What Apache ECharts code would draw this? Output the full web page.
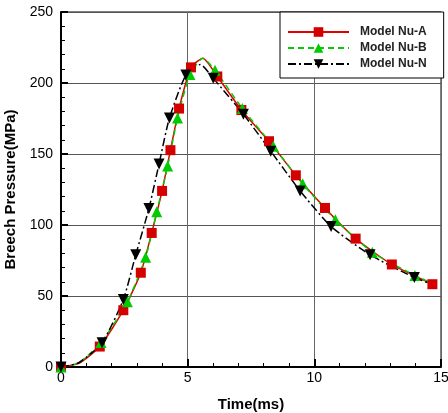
<!DOCTYPE html>
<html>
<head>
<meta charset="utf-8">
<script src="https://cdn.jsdelivr.net/npm/echarts@6/dist/echarts.min.js"></script>
<style>
  html, body { margin: 0; padding: 0; background: #fff; }
  #chart { width: 448px; height: 413px; }
</style>
</head>
<body>
<div id="chart"></div>
<script>
// marker points (time in ms, pressure in MPa)
const timeA = [0, 1.53, 2.46, 3.15, 3.58, 3.99, 4.32, 4.66, 5.13, 6.17, 7.12, 8.21, 9.27, 10.42, 11.63, 13.06, 14.66];
const pressA = [0, 14.4, 40, 66.4, 94.4, 124, 152.7, 182, 211, 204.6, 181, 159, 135, 112, 90.4, 72.2, 58.3];
const timeB = [0, 1.58, 2.62, 3.34, 3.78, 4.21, 4.6, 5.09, 6.08, 7.16, 8.38, 9.54, 10.83, 12.29, 13.97];
const pressB = [0, 17.2, 45.9, 77.3, 109.3, 141.5, 175.3, 206, 209, 182, 155.5, 129, 103.7, 80.8, 64.5];
const timeN = [0, 1.62, 2.46, 2.95, 3.47, 3.87, 4.28, 4.93, 6.01, 7.2, 8.28, 9.44, 10.66, 12.2, 13.95];
const pressN = [0, 17, 47.5, 79, 111.6, 143, 175.3, 205.6, 203.3, 178, 152, 124, 99, 79, 63];

// extra curve points without a marker (start, peak, end of curve)
const curveA = [[0.7, 2.5], [5.6, 217.5]];
const curveB = [[0.7, 3], [5.6, 217.5], [14.7, 58.5]];
const curveN = [[0.7, 3], [5.5, 213], [14.7, 58]];

const seriesNames = ["Model Nu-A", "Model Nu-B", "Model Nu-N"];

function buildData(times, press, extra) {
  let pts = times.map((t, i) => ({ value: [t, press[i]] }));
  extra.forEach(p => pts.push({ value: p, symbol: "none" }));
  pts.sort((a, b) => a.value[0] - b.value[0]);
  return pts;
}

const font = "'Liberation Sans', Arial, sans-serif";
const chart = echarts.init(document.getElementById("chart"));

const option = {
  animation: false,
  grid: {
    left: 61, right: 7, top: 12, bottom: 46,
    outerBoundsMode: "none",
    containLabel: false,
    show: true, borderColor: "#000", borderWidth: 1
  },
  legend: {
    data: seriesNames,
    orient: "vertical",
    left: 280, top: 12,
    padding: [14, 17, 8, 7],
    itemWidth: 61, itemHeight: 12, itemGap: 4,
    backgroundColor: "#fff",
    borderColor: "#000", borderWidth: 1,
    textStyle: {
      fontFamily: font, fontSize: 12, fontWeight: "bold",
      color: "#222", padding: [0, 0, 0, 6], lineHeight: 12
    }
  },
  xAxis: {
    type: "value",
    min: 0, max: 15, interval: 5,
    name: "Time(ms)",
    nameLocation: "middle",
    nameGap: 30,
    nameTextStyle: { fontFamily: font, fontSize: 15, fontWeight: "bold", color: "#000" },
    axisLine: { onZero: false, lineStyle: { color: "#000", width: 2 } },
    axisTick: { inside: true, length: 8, lineStyle: { color: "#000", width: 2 } },
    minorTick: { show: true, splitNumber: 5, length: 4, lineStyle: { color: "#000", width: 1 } },
    axisLabel: { fontFamily: font, fontSize: 14, color: "#000", margin: 4 },
    splitLine: { show: true, lineStyle: { color: "#666", width: 1 } }
  },
  yAxis: {
    type: "value",
    min: 0, max: 250, interval: 50,
    name: "Breech Pressure(MPa)",
    nameLocation: "middle",
    nameGap: 30,
    nameTextStyle: { fontFamily: font, fontSize: 15, fontWeight: "bold", color: "#000" },
    axisLine: { onZero: false, lineStyle: { color: "#000", width: 2 } },
    axisTick: { inside: true, length: 7, lineStyle: { color: "#000", width: 2 } },
    minorTick: { show: true, splitNumber: 5, length: 4, lineStyle: { color: "#000", width: 1 } },
    axisLabel: { fontFamily: font, fontSize: 14, color: "#000", margin: 8 },
    splitLine: { show: true, lineStyle: { color: "#555", width: 1 } }
  },
  series: [
    {
      name: seriesNames[0],
      type: "line",
      smooth: 0.2,
      symbol: "rect",
      symbolSize: 10,
      itemStyle: { color: "#d40000" },
      lineStyle: { color: "#e00000", width: 1.5, type: "solid" },
      data: buildData(timeA, pressA, curveA)
    },
    {
      name: seriesNames[1],
      type: "line",
      smooth: 0.2,
      symbol: "triangle",
      symbolSize: 11,
      itemStyle: { color: "#00cc00" },
      lineStyle: { color: "#00cc00", width: 1.5, type: [6, 4] },
      data: buildData(timeB, pressB, curveB)
    },
    {
      name: seriesNames[2],
      type: "line",
      smooth: 0.2,
      symbol: "triangle",
      symbolRotate: 180,
      symbolSize: 11,
      itemStyle: { color: "#000" },
      lineStyle: { color: "#000", width: 1.5, type: [8, 3, 2, 3] },
      data: buildData(timeN, pressN, curveN)
    }
  ]
};

chart.setOption(option);
</script>
</body>
</html>
